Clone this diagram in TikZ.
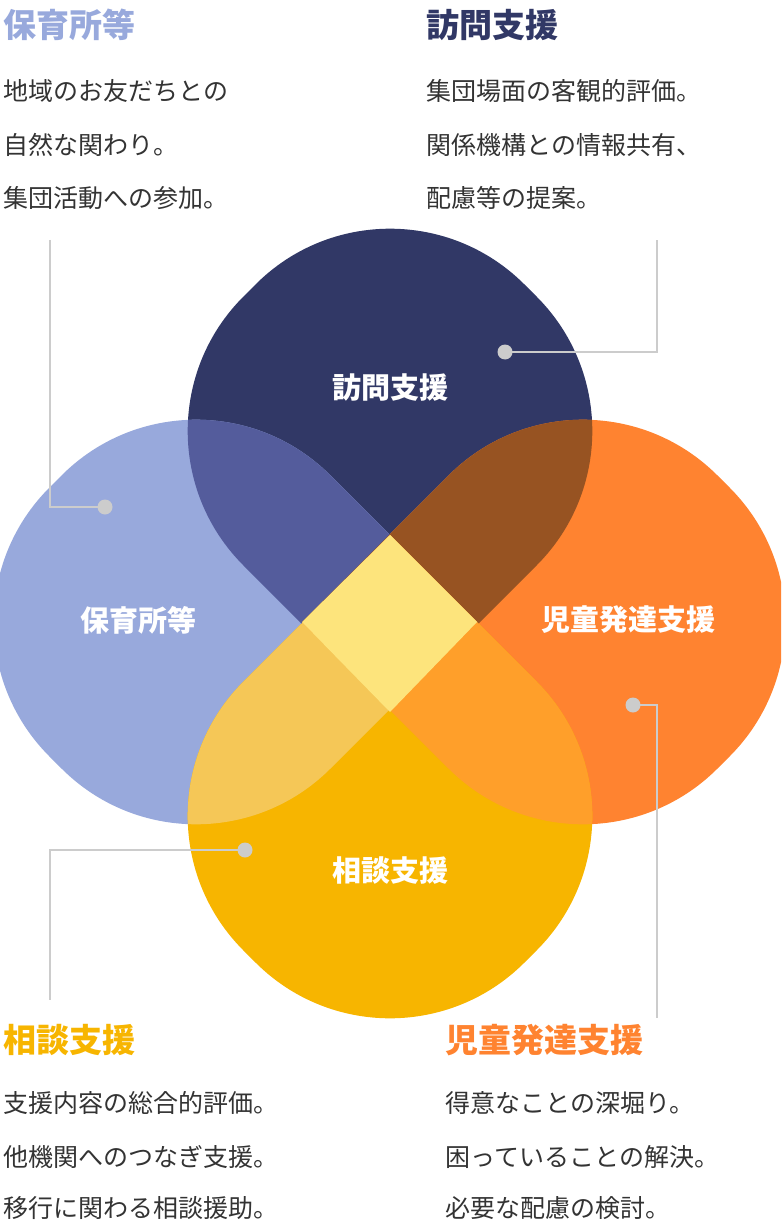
\documentclass[tikz,border=0pt]{standalone}
\usepackage{fontspec}
\newfontfamily\cjk{Noto Sans CJK JP}
\begin{document}
\begin{tikzpicture}[x=1pt,y=-1pt]
\definecolor{navy}{HTML}{313866}
\definecolor{lblue}{HTML}{98A9DC}
\definecolor{orng}{HTML}{FF8330}
\definecolor{yel}{HTML}{F7B500}
\definecolor{nb}{HTML}{545C9C}
\definecolor{no}{HTML}{975322}
\definecolor{by}{HTML}{F5C757}
\definecolor{oy}{HTML}{FF9F2A}
\definecolor{ctr}{HTML}{FDE47C}
\definecolor{lead}{HTML}{CCCCCC}
\definecolor{txt}{HTML}{333333}
\tikzset{
 lbl/.style={text=white,font=\cjk\bfseries\fontsize{29}{34}\selectfont},
 head/.style={anchor=west,font=\cjk\bfseries\fontsize{33}{38}\selectfont},
 body/.style={anchor=west,text=txt,font=\cjk\fontsize{25}{30}\selectfont},
 leader/.style={draw=lead,line width=2.5pt},
 dotc/.style={fill=lead,circle,inner sep=0pt,minimum size=15pt}
}
\useasboundingbox (0,0) rectangle (781,1230);
\def\R{190}
\def\shN{(390,712) [rounded corners=\R] -- (109,431) -- (390,150) -- (671,431) [sharp corners] -- cycle}
\def\shB{(477,622) [rounded corners=\R] -- (196,341) -- (-85,622) -- (196,903) [sharp corners] -- cycle}
\def\shO{(302,622) [rounded corners=\R] -- (583,341) -- (864,622) -- (583,903) [sharp corners] -- cycle}
\def\shY{(390,535) [rounded corners=\R] -- (109,816) -- (390,1097) -- (671,816) [sharp corners] -- cycle}
\begin{scope}
\clip (0,0) rectangle (781,1230);
\fill[navy] \shN;
\fill[lblue] \shB;
\fill[orng] \shO;
\fill[yel] \shY;
\begin{scope}\clip \shN; \fill[nb] \shB; \fill[no] \shO; \end{scope}
\begin{scope}\clip \shY; \fill[by] \shB; \fill[oy] \shO; \end{scope}
\fill[ctr] (390,535) -- (477,622) -- (390,712) -- (302,622) -- cycle;
\end{scope}
\node[lbl] (ln) at (390,388) {訪問支援};
\node[lbl] (lb) at (138,620) {保育所等};
\node[lbl] (lo) at (628,620) {児童発達支援};
\node[lbl] (ly) at (390,870) {相談支援};
% leaders
\node[dotc] (db) at (105,507) {};
\node[dotc] (dn) at (505,352) {};
\node[dotc] (do) at (633,705) {};
\node[dotc] (dy) at (245,850) {};
\coordinate (eb) at (50,240);
\coordinate (en) at (657,240);
\coordinate (eo) at (657,1018);
\coordinate (ey) at (50,1000);
\draw[leader] (eb) |- (db.center);
\draw[leader] (dn.center) -| (en);
\draw[leader] (do.center) -| (eo);
\draw[leader] (dy.center) -| (ey);
% texts
\node[head,text=lblue] (hb) at (0,25) {保育所等};
\node[body] (b1) at (0,91) {地域のお友だちとの};
\node[body] (b2) at (0,145) {自然な関わり。};
\node[body] (b3) at (0,198) {集団活動への参加。};
\node[head,text=navy] (hn) at (423,25) {訪問支援};
\node[body] (n1) at (423,91) {集団場面の客観的評価。};
\node[body] (n2) at (423,145) {関係機構との情報共有、};
\node[body] (n3) at (423,198) {配慮等の提案。};
\node[head,text=yel] (hy) at (0,1040) {相談支援};
\node[body] (y1) at (0,1103) {支援内容の総合的評価。};
\node[body] (y2) at (0,1157) {他機関へのつなぎ支援。};
\node[body] (y3) at (0,1208) {移行に関わる相談援助。};
\node[head,text=orng] (ho) at (442,1040) {児童発達支援};
\node[body] (o1) at (442,1103) {得意なことの深堀り。};
\node[body] (o2) at (442,1157) {困っていることの解決。};
\node[body] (o3) at (442,1208) {必要な配慮の検討。};
\end{tikzpicture}
\end{document}
